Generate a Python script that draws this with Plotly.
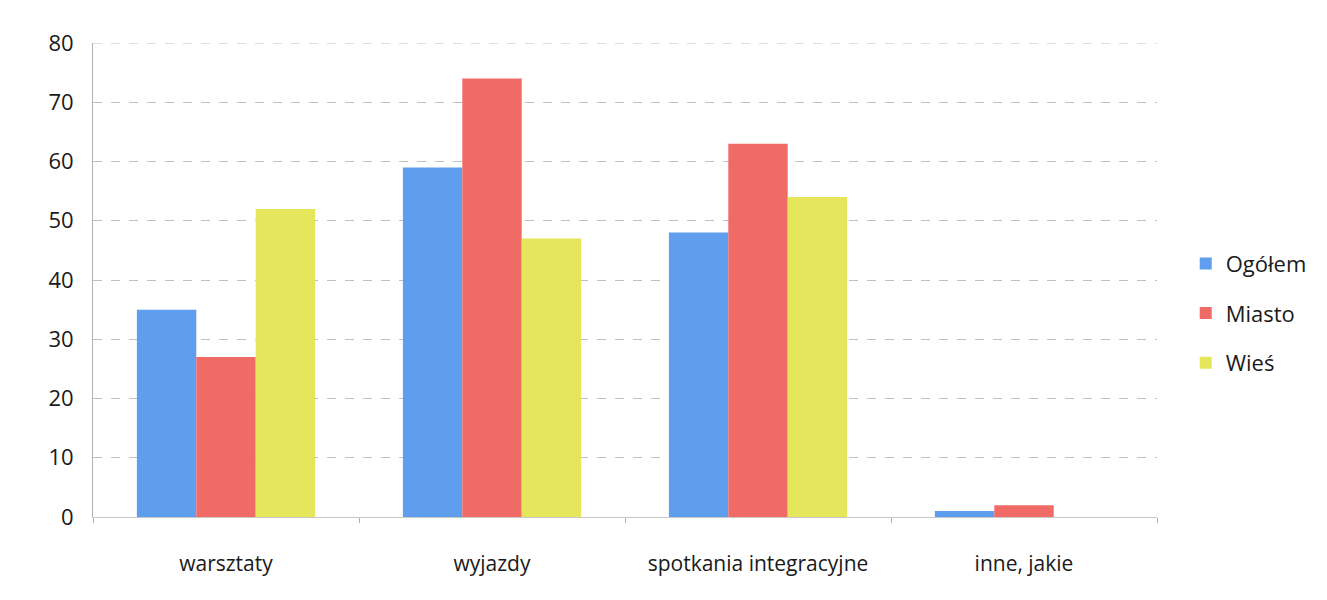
import plotly.graph_objects as go

categories = ['warsztaty', 'wyjazdy', 'spotkania integracyjne', 'inne, jakie']
ogolem = [35, 59, 48, 1]
miasto = [27, 74, 63, 2]
wies = [52, 47, 54, 0]

COLORS = {'Ogółem': '#5f9ded', 'Miasto': '#f06b66', 'Wieś': '#e6e65c'}

fig = go.Figure()
for name, vals in [('Ogółem', ogolem), ('Miasto', miasto), ('Wieś', wies)]:
    fig.add_trace(go.Bar(x=categories, y=vals, name=name, legendgroup=name,
                         marker=dict(color=COLORS[name], line=dict(width=0))))

# top gridline at 80 (plotly skips the one at the range edge)
fig.add_hline(y=80, line=dict(color='#c0c0c0', width=1, dash='dash'))

fig.update_layout(
    width=1327, height=600,
    barmode='group', bargap=0.33, bargroupgap=0,
    plot_bgcolor='white', paper_bgcolor='white',
    font=dict(family='Open Sans, Lato, sans-serif', color='#1a1a1a', size=20),
    margin=dict(l=85, r=178, t=35, b=91),
    legend=dict(x=1.027, y=0.43, xanchor='left', yanchor='middle',
                font=dict(size=22), tracegroupgap=18, traceorder='grouped',
                itemsizing='constant'),
    xaxis=dict(showline=True, linecolor='#c8c8c8', ticks='outside', tickcolor='#b0b0b0',
               tickson='boundaries', ticklen=5, tickfont=dict(size=21),
               ticklabelstandoff=28, automargin=False),
    yaxis=dict(range=[0, 80], dtick=10, showgrid=True, gridcolor='#c0c0c0',
               griddash='dash', gridwidth=1, showline=True, linecolor='#b0b0b0',
               linewidth=1, zeroline=False, automargin=False,
               tickfont=dict(size=22), ticklabelstandoff=14),
)

fig.write_html("out.html")
